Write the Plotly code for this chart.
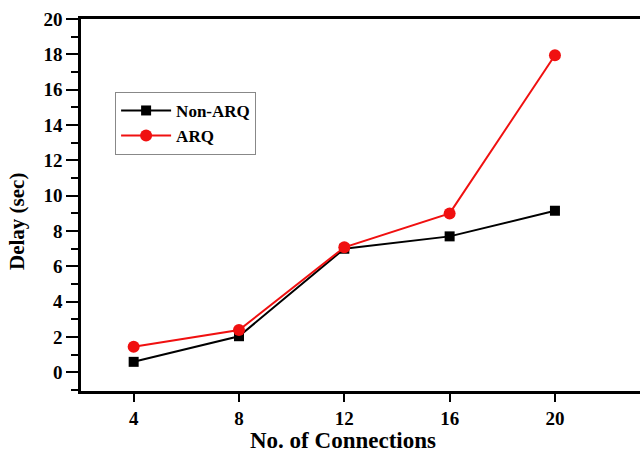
import plotly.graph_objects as go

# Number of connections and measured delay (seconds)
connections = [4, 8, 12, 16, 20]
delay_non_arq = [0.6, 2.05, 7.0, 7.7, 9.15]
delay_arq = [1.45, 2.4, 7.08, 9.0, 17.95]

x_ticks = [4, 8, 12, 16, 20]
y_ticks = [0, 2, 4, 6, 8, 10, 12, 14, 16, 18, 20]

SERIF = "Liberation Serif"

fig = go.Figure()
fig.add_trace(go.Scatter(
    x=connections, y=delay_non_arq, name="<b>Non-ARQ</b>", mode="lines+markers",
    line=dict(color="black", width=2),
    marker=dict(symbol="square", size=10, color="black"),
))
fig.add_trace(go.Scatter(
    x=connections, y=delay_arq, name="<b>ARQ</b>", mode="lines+markers",
    line=dict(color="#f01010", width=2),
    marker=dict(symbol="circle", size=12, color="#f01010"),
))

fig.update_layout(
    width=640, height=454,
    margin=dict(l=81, r=0, t=19, b=63),
    paper_bgcolor="white", plot_bgcolor="white",
    showlegend=True,
    font=dict(family=SERIF, color="black"),
    legend=dict(
        x=0.061, y=0.804, xanchor="left", yanchor="top",
        bgcolor="white", bordercolor="#888888", borderwidth=1,
        font=dict(family=SERIF, size=17, color="black"),
        tracegroupgap=0, itemwidth=50,
    ),
)

fig.update_xaxes(
    range=[2, 23.23], tickvals=x_ticks, ticktext=[f"<b>{v}</b>" for v in x_ticks],
    showgrid=False, zeroline=False, automargin=False,
    showline=True, linecolor="black", linewidth=2.5, mirror=True,
    ticks="outside", ticklen=8, tickwidth=2, tickcolor="black",
    tickfont=dict(family=SERIF, size=19, color="black"),
)
fig.update_yaxes(
    range=[-1.05, 20], tickvals=y_ticks, ticktext=[f"<b>{v}</b>" for v in y_ticks],
    showgrid=False, zeroline=False, automargin=False,
    showline=True, linecolor="black", linewidth=2.5,
    ticks="outside", ticklen=12, tickwidth=2, tickcolor="black",
    minor=dict(dtick=1, tick0=0, ticks="outside", ticklen=7, tickwidth=2, tickcolor="black"),
    tickfont=dict(family=SERIF, size=19, color="black"),
)

# Axis titles
fig.add_annotation(
    text="<b>No. of Connections</b>", xref="paper", yref="paper",
    x=0.4687, y=-0.132, xanchor="center", yanchor="middle", showarrow=False,
    font=dict(family=SERIF, size=23, color="black"),
)
fig.add_annotation(
    text="<b>Delay (sec)</b>", xref="paper", yref="paper",
    x=-0.1145, y=0.457, xanchor="center", yanchor="middle", showarrow=False,
    textangle=-90, font=dict(family=SERIF, size=21, color="black"),
)

fig.write_html("out.html")
